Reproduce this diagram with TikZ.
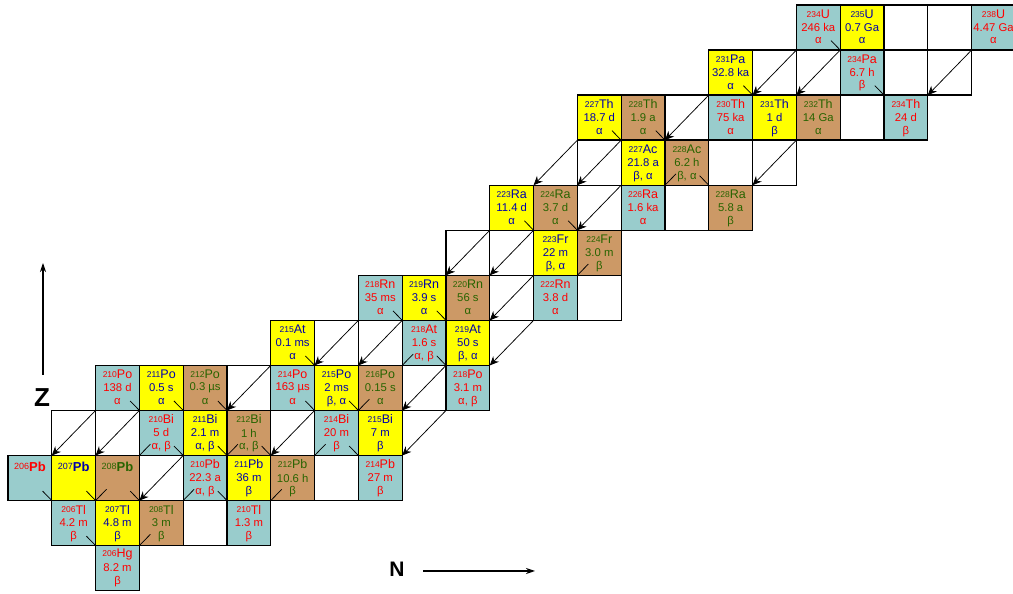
\documentclass[tikz,border=0pt]{standalone}
\usepackage{fontspec}
\setmainfont{Liberation Sans}
\usetikzlibrary{arrows.meta,calc}
\definecolor{cteal}{RGB}{153,204,204}
\definecolor{cyel}{RGB}{255,255,0}
\definecolor{cbrn}{RGB}{204,153,102}
\definecolor{tred}{RGB}{255,0,0}
\definecolor{tblu}{RGB}{0,0,170}
\definecolor{tgrn}{RGB}{40,100,0}
\tikzset{
 cellbox/.style={draw=black, line width=1.3pt, minimum width=43.8pt, minimum height=45.05pt, inner sep=0pt, outer sep=0pt},
 txt/.style={inner sep=0pt, font=\fontsize{11.3}{12}\selectfont},
 adecay/.style={line width=0.75pt, -{Stealth[length=9pt,width=8pt]}},
 stub/.style={line width=0.75pt},
 axisarrow/.style={line width=1.1pt, -{Stealth[length=9pt,width=6pt]}},
 axislabel/.style={inner sep=0pt, font=\bfseries\fontsize{26}{26}\selectfont},
}
\newcommand\wc[2]{\node[cellbox,fill=white] (c#1-#2) at ({(#1-124)*43.8+29.9},{566.475-(92-#2)*45.05}) {};}
\newcommand\nuc[8]{%
 \node[cellbox,fill=#3] (c#1-#2) at ({(#1-124)*43.8+29.9},{566.475-(92-#2)*45.05}) {};
 \node[txt,text=#4] (c#1-#2l) at ([yshift=-9pt]c#1-#2.north) {\raisebox{1.2pt}{\fontsize{8.5}{9}\selectfont #5}\fontsize{12.5}{13}\selectfont #6};
 \node[txt,text=#4] (c#1-#2h) at ([yshift=-22.5pt]c#1-#2.north) {#7};
 \node[txt,text=#4] (c#1-#2d) at ([yshift=-36pt]c#1-#2.north) {#8};
}
\newcommand\stab[5]{%
 \node[cellbox,fill=#3] (c#1-#2) at ({(#1-124)*43.8+29.9},{566.475-(92-#2)*45.05}) {};
 \node[txt,text=#4] (c#1-#2l) at ([yshift=-11pt]c#1-#2.north) {\raisebox{1.5pt}{\fontsize{9}{10}\selectfont #5}\bfseries\fontsize{13}{14}\selectfont Pb};
}
\newcommand\al[4]{\draw[adecay] (c#1-#2.south west) -- (c#3-#4.north east);}
\newcommand\als[4]{\draw[stub] (c#3-#4.north east) -- ($(c#3-#4.north east)!0.25!(c#1-#2.south west)$);}
\newcommand\bs[4]{\draw[stub] (c#1-#2.north west) -- ($(c#1-#2.north west)!0.42!(c#3-#4.center)$);}
\begin{document}
\begin{tikzpicture}[x=1pt,y=1pt]
\useasboundingbox (0,0) rectangle (1013,594);
\clip (0,0) rectangle (1013,594);
% U
\nuc{142}{92}{cteal}{tred}{234}{U}{246 ka}{α}
\nuc{143}{92}{cyel}{tblu}{235}{U}{0.7 Ga}{α}
\wc{144}{92} \wc{145}{92}
\nuc{146}{92}{cteal}{tred}{238}{U}{4.47 Ga}{α}
% Pa
\nuc{140}{91}{cyel}{tblu}{231}{Pa}{32.8 ka}{α}
\wc{141}{91} \wc{142}{91}
\nuc{143}{91}{cteal}{tred}{234}{Pa}{6.7 h}{β}
\wc{144}{91} \wc{145}{91}
% Th
\nuc{137}{90}{cyel}{tblu}{227}{Th}{18.7 d}{α}
\nuc{138}{90}{cbrn}{tgrn}{228}{Th}{1.9 a}{α}
\wc{139}{90}
\nuc{140}{90}{cteal}{tred}{230}{Th}{75 ka}{α}
\nuc{141}{90}{cyel}{tblu}{231}{Th}{1 d}{β}
\nuc{142}{90}{cbrn}{tgrn}{232}{Th}{14 Ga}{α}
\wc{143}{90}
\nuc{144}{90}{cteal}{tred}{234}{Th}{24 d}{β}
% Ac
\wc{137}{89}
\nuc{138}{89}{cyel}{tblu}{227}{Ac}{21.8 a}{β, α}
\nuc{139}{89}{cbrn}{tgrn}{228}{Ac}{6.2 h}{β, α}
\wc{140}{89} \wc{141}{89}
% Ra
\nuc{135}{88}{cyel}{tblu}{223}{Ra}{11.4 d}{α}
\nuc{136}{88}{cbrn}{tgrn}{224}{Ra}{3.7 d}{α}
\wc{137}{88}
\nuc{138}{88}{cteal}{tred}{226}{Ra}{1.6 ka}{α}
\wc{139}{88}
\nuc{140}{88}{cbrn}{tgrn}{228}{Ra}{5.8 a}{β}
% Fr
\wc{134}{87} \wc{135}{87}
\nuc{136}{87}{cyel}{tblu}{223}{Fr}{22 m}{β, α}
\nuc{137}{87}{cbrn}{tgrn}{224}{Fr}{3.0 m}{β}
% Rn
\nuc{132}{86}{cteal}{tred}{218}{Rn}{35 ms}{α}
\nuc{133}{86}{cyel}{tblu}{219}{Rn}{3.9 s}{α}
\nuc{134}{86}{cbrn}{tgrn}{220}{Rn}{56 s}{α}
\wc{135}{86}
\nuc{136}{86}{cteal}{tred}{222}{Rn}{3.8 d}{α}
\wc{137}{86}
% At
\nuc{130}{85}{cyel}{tblu}{215}{At}{0.1 ms}{α}
\wc{131}{85} \wc{132}{85}
\nuc{133}{85}{cteal}{tred}{218}{At}{1.6 s}{α, β}
\nuc{134}{85}{cyel}{tblu}{219}{At}{50 s}{β, α}
% Po
\nuc{126}{84}{cteal}{tred}{210}{Po}{138 d}{α}
\nuc{127}{84}{cyel}{tblu}{211}{Po}{0.5 s}{α}
\nuc{128}{84}{cbrn}{tgrn}{212}{Po}{0.3 µs}{α}
\wc{129}{84}
\nuc{130}{84}{cteal}{tred}{214}{Po}{163 µs}{α}
\nuc{131}{84}{cyel}{tblu}{215}{Po}{2 ms}{β, α}
\nuc{132}{84}{cbrn}{tgrn}{216}{Po}{0.15 s}{α}
\wc{133}{84}
\nuc{134}{84}{cteal}{tred}{218}{Po}{3.1 m}{α, β}
% Bi
\wc{125}{83} \wc{126}{83}
\nuc{127}{83}{cteal}{tred}{210}{Bi}{5 d}{α, β}
\nuc{128}{83}{cyel}{tblu}{211}{Bi}{2.1 m}{α, β}
\nuc{129}{83}{cbrn}{tgrn}{212}{Bi}{1 h}{α, β}
\wc{130}{83}
\nuc{131}{83}{cteal}{tred}{214}{Bi}{20 m}{β}
\nuc{132}{83}{cyel}{tblu}{215}{Bi}{7 m}{β}
% Pb
\stab{124}{82}{cteal}{tred}{206}
\stab{125}{82}{cyel}{tblu}{207}
\stab{126}{82}{cbrn}{tgrn}{208}
\wc{127}{82}
\nuc{128}{82}{cteal}{tred}{210}{Pb}{22.3 a}{α, β}
\nuc{129}{82}{cyel}{tblu}{211}{Pb}{36 m}{β}
\nuc{130}{82}{cbrn}{tgrn}{212}{Pb}{10.6 h}{β}
\wc{131}{82}
\nuc{132}{82}{cteal}{tred}{214}{Pb}{27 m}{β}
% Tl
\nuc{125}{81}{cteal}{tred}{206}{Tl}{4.2 m}{β}
\nuc{126}{81}{cyel}{tblu}{207}{Tl}{4.8 m}{β}
\nuc{127}{81}{cbrn}{tgrn}{208}{Tl}{3 m}{β}
\wc{128}{81}
\nuc{129}{81}{cteal}{tred}{210}{Tl}{1.3 m}{β}
% Hg
\nuc{126}{80}{cteal}{tred}{206}{Hg}{8.2 m}{β}
% alpha arrows
\al{146}{92}{144}{90} \al{142}{92}{140}{90} \al{143}{92}{141}{90}
\al{140}{91}{138}{89} \al{142}{90}{140}{88} \al{137}{90}{135}{88}
\al{138}{90}{136}{88} \al{138}{89}{136}{87} \al{135}{88}{133}{86}
\al{136}{88}{134}{86} \al{136}{87}{134}{85} \al{132}{86}{130}{84}
\al{133}{86}{131}{84} \al{136}{86}{134}{84} \al{130}{85}{128}{83}
\al{134}{85}{132}{83} \al{126}{84}{124}{82} \al{127}{84}{125}{82}
\al{131}{84}{129}{82} \al{134}{84}{132}{82} \al{128}{83}{126}{81}
% alpha stubs
\als{140}{90}{138}{88} \als{138}{88}{136}{86} \als{134}{86}{132}{84}
\als{133}{85}{131}{83} \als{128}{84}{126}{82} \als{130}{84}{128}{82}
\als{132}{84}{130}{82} \als{127}{83}{125}{81} \als{129}{83}{127}{81}
\als{131}{83}{129}{81} \als{128}{82}{126}{80}
% beta stubs
\bs{144}{90}{143}{91} \bs{143}{91}{142}{92} \bs{141}{90}{140}{91}
\bs{140}{88}{139}{89} \bs{139}{89}{138}{90} \bs{138}{89}{137}{90}
\bs{137}{87}{136}{88} \bs{136}{87}{135}{88} \bs{134}{85}{133}{86}
\bs{133}{85}{132}{86} \bs{134}{84}{133}{85} \bs{131}{84}{130}{85}
\bs{132}{83}{131}{84} \bs{131}{83}{130}{84} \bs{129}{83}{128}{84}
\bs{128}{83}{127}{84} \bs{127}{83}{126}{84} \bs{132}{82}{131}{83}
\bs{130}{82}{129}{83} \bs{129}{82}{128}{83} \bs{128}{82}{127}{83}
\bs{129}{81}{128}{82} \bs{127}{81}{126}{82} \bs{126}{81}{125}{82}
\bs{125}{81}{124}{82} \bs{126}{80}{125}{81}
% axes
\coordinate (z0) at (43,219);
\coordinate (z1) at (43,331);
\draw[axisarrow] (z0) -- (z1);
\node[axislabel] (zl) at (42,196) {Z};
\coordinate (n0) at (423,23);
\coordinate (n1) at (535,23);
\draw[axisarrow] (n0) -- (n1);
\node[axislabel,font=\bfseries\fontsize{21}{21}\selectfont] (nl) at (397,25) {N};
\end{tikzpicture}
\end{document}
